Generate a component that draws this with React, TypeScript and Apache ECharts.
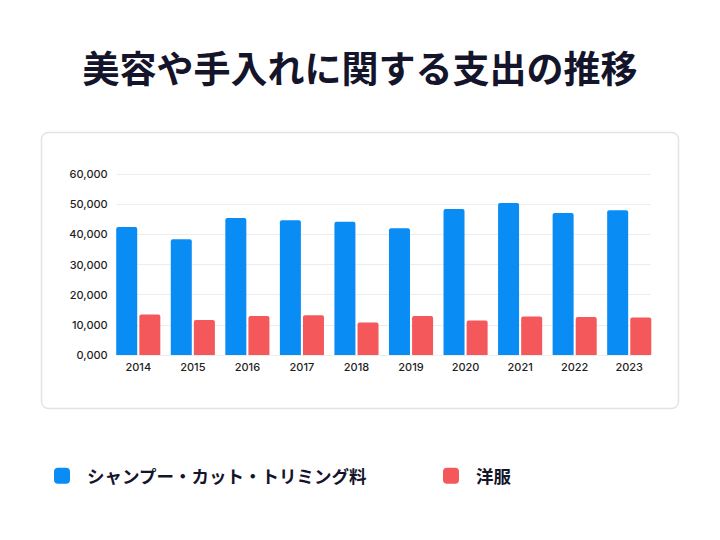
import React, { useEffect, useRef } from "react";
import * as echarts from "echarts";

const categories = ["2014", "2015", "2016", "2017", "2018", "2019", "2020", "2021", "2022", "2023"];
const groomingValues = [42400, 38400, 45400, 44700, 44200, 42000, 48400, 50400, 47100, 48000];
const clothingValues = [13400, 11600, 12900, 13200, 10800, 12900, 11400, 12800, 12600, 12400];
const seriesNames = ["シャンプー・カット・トリミング料", "洋服"];
const yTicks = [0, 10000, 20000, 30000, 40000, 50000, 60000];

const BLUE = "#0A8CF5";
const RED = "#F4585A";
const FONT = "'Noto Sans CJK JP', 'Noto Sans', sans-serif";
const NUMFONT = "Inter, 'Noto Sans', sans-serif";

export default function App() {
  const ref = useRef<HTMLDivElement>(null);
  useEffect(() => {
    if (!ref.current) return;
    const chart = echarts.init(ref.current, undefined, { renderer: "svg" });
    const yMax = yTicks[yTicks.length - 1];
    const yInterval = yTicks[1] - yTicks[0];
    const legendText = {
      fontFamily: FONT,
      fontSize: 17.5,
      fontWeight: "bold",
      color: "#14142B",
      padding: [0, 0, 0, 12],
    };
    chart.setOption({
      animation: false,
      backgroundColor: "#ffffff",
      title: {
        text: "美容や手入れに関する支出の推移",
        left: "center",
        top: 48,
        padding: 0,
        textStyle: { fontFamily: FONT, fontSize: 37, fontWeight: "bold", color: "#14142B" },
      },
      graphic: [
        {
          type: "rect",
          shape: { x: 41.5, y: 132.5, width: 637, height: 276, r: 7 },
          style: { fill: "#ffffff", stroke: "#E4E4E7", lineWidth: 1.5 },
          z: -10,
        },
      ],
      legend: [
        {
          data: [{ name: seriesNames[0] }],
          left: 54,
          top: 467,
          padding: 0,
          icon: "roundRect",
          itemWidth: 16,
          itemHeight: 16,
          textStyle: legendText,
        },
        {
          data: [{ name: seriesNames[1] }],
          left: 443,
          top: 467,
          padding: 0,
          icon: "roundRect",
          itemWidth: 16,
          itemHeight: 16,
          textStyle: legendText,
        },
      ],
      grid: [
        { left: 111, right: 63.5, top: 174, bottom: 185 },
        { left: 116.7, right: 69.5, top: 174, bottom: 185 },
      ],
      xAxis: [
        {
          type: "category",
          gridIndex: 0,
          data: categories,
          axisLine: { show: false },
          axisTick: { show: false },
          axisLabel: { margin: 6, fontFamily: NUMFONT, fontSize: 11, fontWeight: 500, color: "#1E1E1E" },
        },
        { type: "value", gridIndex: 1, show: false, min: 0, max: 1 },
      ],
      yAxis: [
        {
          type: "value",
          gridIndex: 0,
          min: 0,
          max: yMax,
          interval: yInterval,
          show: false,
        },
        {
          type: "value",
          gridIndex: 1,
          min: 0,
          max: yMax,
          interval: yInterval,
          axisLine: { show: false },
          axisTick: { show: false },
          splitLine: { lineStyle: { color: "#EDEDED", width: 1 } },
          axisLabel: {
            margin: 9,
            fontFamily: NUMFONT,
            fontSize: 11,
            fontWeight: 500,
            color: "#1E1E1E",
            formatter: (v: number) => (v === 0 ? "0,000" : v.toLocaleString("en-US")),
          },
        },
      ],
      series: [
        {
          name: seriesNames[0],
          type: "bar",
          xAxisIndex: 0,
          yAxisIndex: 0,
          data: groomingValues,
          barWidth: 21,
          barGap: "10%",
          itemStyle: { color: BLUE, borderRadius: [2, 2, 0, 0] },
        },
        {
          name: seriesNames[1],
          type: "bar",
          xAxisIndex: 0,
          yAxisIndex: 0,
          data: clothingValues,
          barWidth: 21,
          barGap: "10%",
          itemStyle: { color: RED, borderRadius: [2, 2, 0, 0] },
        },
      ],
    });
    return () => chart.dispose();
  }, []);
  return (
    <div
      ref={ref}
      style={{ position: "fixed", left: 0, top: 0, width: 720, height: 540, background: "#fff" }}
    />
  );
}
